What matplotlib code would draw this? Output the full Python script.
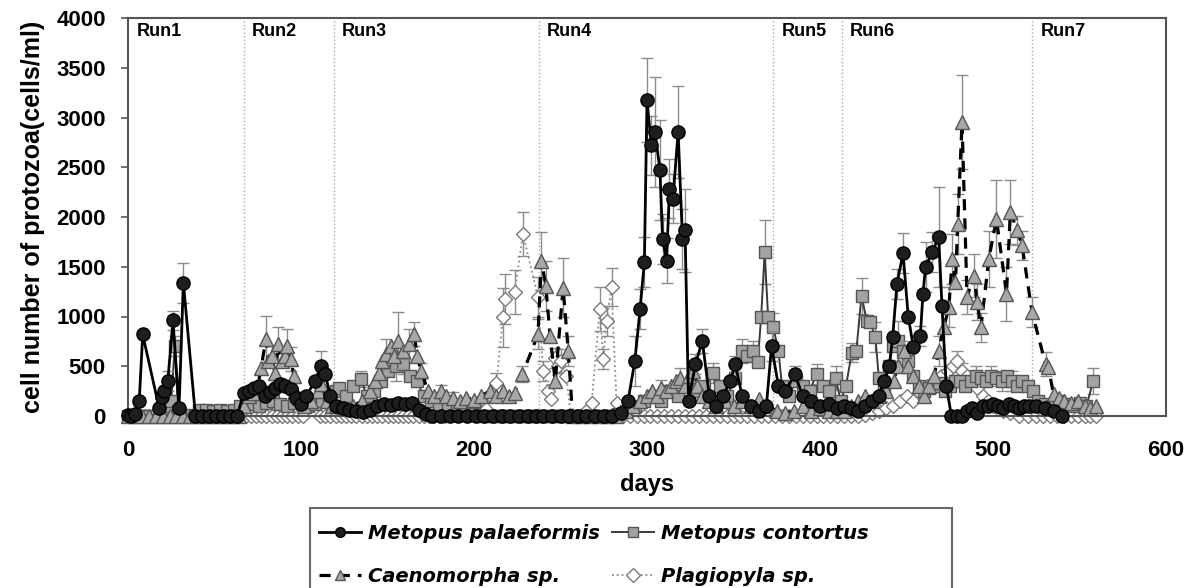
import numpy as np
import matplotlib.pyplot as plt
from matplotlib.patches import Rectangle

# values: days and cells/ml
# Metopus palaeformis
mp_days = [0, 2, 4, 6.5, 8.5, 18, 19.5, 21, 23, 26, 29.5, 32, 39, 43, 47, 51, 55, 59, 63,
           67, 70, 73, 76, 79, 82, 85, 88, 91, 94, 97, 100, 103, 108, 111.5, 114, 117,
           120, 124, 128, 132, 136, 140, 144, 148, 152, 156, 160, 164, 168, 172, 176, 181,
           186, 191, 196, 201, 206, 211, 216, 221, 226, 231, 236,
           240, 245, 250, 255, 260, 265, 270, 275, 280, 285, 289, 293, 296, 298.5, 300,
           302.5, 304.6, 307.5, 309, 311.3, 313, 315, 318, 320.5, 322, 324, 328, 332, 336,
           340, 344, 348, 351, 355, 360, 365, 369, 372,
           376, 380, 385.5, 390, 395, 400, 405, 410,
           414, 418, 422, 426, 430, 434, 437, 440, 442, 444.5, 448, 451, 454, 458, 459.5,
           461, 464.8, 468.6, 470.5, 473, 476, 479, 482, 485, 488, 491, 494, 497, 500, 503,
           506, 509, 512, 515, 518, 521,
           525, 530, 535, 540]
mp_vals = [10, 0, 20, 150, 820, 80, 190, 250, 350, 960, 80, 1340, 0, 0, 0, 0, 0, 0, 0,
           235, 250, 280, 300, 200, 240, 280, 320, 300, 270, 180, 120, 200, 350, 500, 420, 200,
           100, 80, 60, 50, 40, 60, 100, 120, 110, 130, 120, 130, 60, 20, 0, 0,
           0, 0, 0, 0, 0, 0, 0, 0, 0, 0, 0,
           0, 0, 0, 0, 0, 0, 0, 0, 0, 30, 150, 554, 1075, 1550, 3175,
           2720, 2856, 2470, 1780, 1562, 2285, 2185, 2856, 1780, 1865, 150, 520, 756, 200,
           100, 200, 350, 520, 200, 100, 50, 100, 700,
           300, 250, 423, 200, 150, 100, 120, 80,
           100, 80, 50, 100, 150, 200, 350, 500, 790, 1330, 1636, 1000, 690, 806, 1227,
           1495, 1646, 1797, 1109, 300, 0, 0, 0, 50, 80, 30, 100, 100, 120, 100,
           80, 120, 100, 80, 100, 100,
           100, 80, 50, 0]
mp_err = {6.5: 40, 23: 100, 26: 100, 32: 200, 88: 60, 94: 50, 111.5: 150,
          293: 250, 296: 200, 298.5: 250, 300: 425, 302.5: 300, 304.6: 550, 307.5: 500,
          309: 250, 311.3: 230, 313: 300, 315: 250, 318: 460, 320.5: 300, 322: 420,
          328: 100, 332: 120, 351: 80, 372: 150, 385.5: 80,
          444.5: 150, 448: 200, 458: 100, 461: 250, 464.8: 200, 468.6: 500}

# Metopus contortus
mc_days = [0, 4, 8, 12, 16, 20, 23, 25, 27, 29, 33, 37, 41, 45, 49, 53, 57, 61, 65,
           68, 72, 76, 80, 84, 88, 92, 96, 100, 104, 108, 112, 116,
           120, 122, 126, 130, 134.7, 138, 142, 146, 150, 155, 159, 163, 167, 171, 175, 180,
           185, 190, 195, 200, 205, 209, 212, 215, 218, 221, 224, 227, 230, 233, 236,
           239, 242, 245, 248, 251, 254, 258, 263, 268, 273, 278, 283, 288, 293, 298, 303,
           308, 313, 318, 323, 328, 333, 338, 342, 346, 351, 354.7, 358, 361, 364, 366, 368,
           370, 373,
           376, 378, 382, 386, 390, 394, 398, 402, 405, 409, 412,
           415, 418.4, 421, 424, 427, 429, 432, 434, 437, 440, 442, 445, 448, 451, 454, 457,
           460, 463, 466, 469, 472, 475, 478, 481, 484, 487, 490, 493, 496, 499, 502, 505,
           508, 511, 514, 517, 520, 523,
           526, 530, 534, 538, 542, 546, 550, 554, 558]
mc_vals = [0, 0, 0, 0, 0, 30, 100, 150, 700, 50, 0, 10, 60, 60, 50, 60, 50, 60, 100,
           150, 120, 100, 130, 150, 120, 100, 130, 150, 100, 120, 150, 200,
           250, 280, 200, 300, 370, 200, 250, 350, 450, 500, 520, 400, 350, 200, 150, 100,
           80, 60, 40, 20, 0, 0, 0, 0, 0, 0, 0, 0, 0, 0, 0,
           0, 0, 0, 0, 0, 0, 0, 0, 0, 0, 0, 20, 50, 100, 150, 200,
           150, 250, 200, 300, 250, 300, 430, 300, 200, 380, 655, 600, 655, 540, 1000, 1646,
           1000, 890,
           655, 300, 200, 350, 300, 250, 420, 300, 250, 386, 150,
           300, 638, 655, 1210, 957, 940, 790, 386, 300, 500, 700, 756, 650, 550, 400, 300,
           250, 280, 300, 330, 250, 300, 350, 350, 300, 350, 400, 380, 350, 400, 380, 350,
           400, 350, 300, 350, 300, 250,
           150, 120, 100, 150, 120, 100, 130, 100, 353]
mc_err = {27: 100, 134.7: 80, 155: 150, 159: 100, 338: 100, 354.7: 120, 361: 100,
          368: 320, 373: 150, 398: 100, 409: 120, 418.4: 100, 424: 180, 432: 150,
          445: 200, 490: 100, 499: 100, 505: 100, 511: 100, 558: 130}

# Caenomorpha sp.
ca_days = [0, 4, 8, 12, 16, 20, 24, 28, 32, 36, 40, 44, 48, 52, 56, 60, 64,
           67, 70, 72, 75, 77, 79.7, 81, 83, 85, 86.8, 89, 90.5, 92, 94, 96, 99, 102, 106,
           110, 111.6, 115, 118,
           120, 125, 130, 135, 140, 143, 145.3, 147, 149, 152, 154, 156, 159, 162.7, 165.6,
           167, 169.5, 173.3, 177, 181, 184, 188, 192, 195.5, 200, 204, 209, 213, 216.7,
           220, 223.5, 228, 237,
           239, 241.5, 244, 247, 251.5, 254.5, 257, 262, 267, 272, 277, 282, 288, 292, 296,
           300, 303, 306, 308, 311, 314, 317, 319, 322, 324, 326.7, 329, 332, 336, 340, 345,
           350, 355, 360, 365, 370,
           375, 380, 385, 390, 395, 400, 405, 410,
           414, 418, 422, 426, 430, 434, 438, 442.6, 445, 448.4, 451, 454, 457, 460, 463,
           466, 468.6, 471.5, 474.5, 476.4, 478.3, 479.6, 482.1, 485, 488.8, 491, 493,
           497.6, 502, 507.8, 510, 514, 516.8, 522.6, 530.4, 532, 535,
           538, 541, 545, 549, 553, 556, 559.5]
ca_vals = [0, 0, 0, 0, 0, 0, 0, 0, 0, 0, 0, 0, 0, 0, 0, 0, 0,
           100, 200, 235, 300, 487, 773, 550, 600, 430, 722, 550, 600, 706, 575, 400, 185,
           100, 150, 250, 320, 150, 100,
           100, 80, 100, 150, 250, 350, 437, 550, 622, 700, 600, 756, 650, 722, 823,
           600, 454, 252, 200, 252, 200, 185, 150, 185, 165, 200, 252, 200, 252,
           200, 235, 420, 823,
           1560, 1310, 800, 350, 1290, 650, 0, 0, 0, 0, 0, 0, 50, 100, 150,
           200, 250, 200, 285, 250, 300, 350, 386, 300, 400, 454, 300, 200, 150, 100, 150,
           100, 150, 100, 170, 100,
           50, 30, 50, 100, 50, 80, 50, 50,
           50, 100, 150, 200, 150, 200, 250, 353, 500, 655, 500, 400, 300, 200, 300,
           400, 655, 890, 1092, 1580, 1344, 1932, 2956, 1193, 1411, 1142, 890,
           1580, 1982, 1227, 2050, 1865, 1714, 1041, 521, 490, 218,
           180, 150, 130, 150, 100, 80, 100]
ca_err = {79.7: 230, 83: 100, 86.8: 170, 92: 170, 94: 120, 111.6: 80,
          149: 150, 156: 285, 162.7: 150, 165.6: 120, 169.5: 80, 181: 60, 188: 60,
          228: 80, 237: 150, 239: 290, 241.5: 250, 251.5: 300, 254.5: 150, 308: 80,
          319: 100, 326.7: 100, 448.4: 100, 468.6: 150, 474.5: 200, 476.4: 250,
          479.6: 300, 482.1: 470, 485: 170, 488.8: 220, 491: 180, 493: 150, 497.6: 280,
          502: 390, 507.8: 270, 510: 320, 514: 150, 516.8: 150, 522.6: 150, 530.4: 120}

# Plagiopyla sp.
pl_days = [0, 2, 4, 7, 10, 19, 21, 23, 25, 27, 29, 31, 33, 36, 39, 42, 45, 48, 51, 54,
           57, 60, 63, 66,
           68, 71, 74, 77, 80, 83, 86, 89, 92, 95, 98, 101, 111, 114, 117,
           120, 123, 126, 129, 132, 135, 138, 141, 144, 147, 150, 153, 156, 159, 162, 165,
           168, 171, 174, 177, 180, 183, 186, 189, 192, 196, 200, 204, 207, 210, 213, 216.7,
           218, 223.5, 228.3, 237,
           240, 243, 244.5, 246.7, 248.5, 250.5, 253.4, 256, 259, 262, 265, 268, 272.7,
           274.7, 276.6, 279.5, 282.4, 286, 290, 294, 298, 302, 306, 310, 314, 318, 322,
           326, 330, 334, 338, 342, 346, 350, 354, 358, 362, 366, 370,
           374, 378, 382, 386, 390, 394, 398, 402, 406, 410,
           414, 418, 422, 426, 430, 434, 438, 442, 446, 450, 454, 458, 462, 466, 470, 474,
           477, 479, 482, 485, 488, 491, 494, 497, 500, 503, 506, 510, 515, 520,
           525, 529, 533, 537, 541, 545, 549, 553, 556, 559.5]
pl_vals = [0, 0, 0, 0, 0, 0, 0, 0, 0, 0, 0, 0, 0, 0, 0, 0, 0, 0, 0, 0,
           0, 0, 0, 0,
           0, 0, 0, 0, 0, 0, 0, 0, 0, 0, 0, 0, 0, 0, 0,
           0, 0, 0, 0, 0, 0, 0, 0, 0, 0, 0, 0, 0, 0, 0, 0,
           0, 0, 0, 0, 0, 0, 30, 100, 50, 80, 30, 50, 70, 200, 336, 991,
           1176, 1243, 1831, 1193,
           454, 252, 170, 585, 504, 554, 403, 0, 0, 0, 50, 134, 1075,
           571, 957, 1293, 134, 0, 0, 0, 0, 0, 0, 0, 0, 0, 0,
           0, 0, 0, 0, 0, 0, 0, 0, 0, 0, 0, 0,
           0, 0, 0, 0, 0, 0, 0, 0, 0, 0,
           0, 0, 0, 10, 30, 50, 80, 100, 150, 200, 150, 230, 300, 350, 400, 450,
           500, 554, 450, 400, 350, 280, 200, 150, 100, 70, 50, 30, 0, 0,
           0, 0, 0, 0, 0, 0, 0, 0, 0, 0]
pl_err = {213: 100, 216.7: 300, 218: 250, 223.5: 220, 228.3: 220, 237: 200, 240: 100,
          246.7: 100, 250.5: 120, 272.7: 220, 274.7: 100, 276.6: 150, 279.5: 190,
          479: 100, 482: 80}

run_names = ['Run1', 'Run2', 'Run3', 'Run4', 'Run5', 'Run6', 'Run7']
run_starts = [0, 67, 119, 237.5, 373, 412.5, 522.5]

labels = ['Metopus palaeformis', 'Metopus contortus', 'Caenomorpha sp.', 'Plagiopyla sp.']

W, H = 1192, 588
fig = plt.figure(figsize=(W / 100, H / 100), dpi=100)
ax = fig.add_axes([128 / W, 1 - 416 / H, 1038 / W, 398 / H])


def draw(days, vals, errs, z, **style):
    ex = [d for d in errs]
    ey = [vals[days.index(d)] for d in errs]
    ee = [errs[d] for d in errs]
    ax.errorbar(ex, ey, yerr=ee, fmt='none', ecolor='#8c8c8c', elinewidth=1,
                capsize=4, capthick=1, zorder=z - 0.5, clip_on=False)
    line, = ax.plot(days, vals, zorder=z, clip_on=False, **style)
    return line


h_pl = draw(pl_days, pl_vals, pl_err, 2, color='#8a8a8a', linestyle=':', linewidth=1.3,
            marker='D', markersize=7, markerfacecolor='white', markeredgecolor='#7a7a7a',
            markeredgewidth=1)
h_mc = draw(mc_days, mc_vals, mc_err, 3, color='#3a3a3a', linestyle='-', linewidth=1.4,
            marker='s', markersize=9, markerfacecolor='#a2a2a2', markeredgecolor='#555555',
            markeredgewidth=1)
h_ca = draw(ca_days, ca_vals, ca_err, 4, color='black', linestyle=(0, (3.5, 2.5)),
            linewidth=2.3, marker='^', markersize=10, markerfacecolor='#a8a8a8',
            markeredgecolor='#555555', markeredgewidth=1)
h_mp = draw(mp_days, mp_vals, mp_err, 5, color='black', linestyle='-', linewidth=2,
            marker='o', markersize=9.5, markerfacecolor='#1e1e1e', markeredgecolor='black',
            markeredgewidth=1)

# run boundaries and labels
for start, name in zip(run_starts, run_names):
    if start > 0:
        ax.axvline(start, color='#aaaaaa', linestyle=':', linewidth=1, zorder=1)
    ax.annotate(name, xy=(start, 0.966), xycoords=('data', 'axes fraction'),
                xytext=(6, 0), textcoords='offset points', va='center', ha='left',
                fontsize=13, fontweight='bold', family='Liberation Sans')

ax.set_xlim(0, 600)
ax.set_ylim(0, 4000)
ax.set_xticks(range(0, 601, 100))
ax.set_yticks(range(0, 4001, 500))
ax.tick_params(axis='y', direction='out', length=5, width=1.2, pad=11, color='#555555')
ax.tick_params(axis='x', length=0, pad=17)
for lab in ax.get_xticklabels() + ax.get_yticklabels():
    lab.set_fontweight('bold')
    lab.set_fontsize(16)
    lab.set_family('Liberation Sans')
for sp in ax.spines.values():
    sp.set_color('#555555')
    sp.set_linewidth(1.5)

ax.set_xlabel('days', fontsize=17, fontweight='bold', family='Liberation Sans', labelpad=9)
ax.set_ylabel('cell number of protozoa(cells/ml)', fontsize=18, fontweight='bold',
              family='Liberation Sans', labelpad=8)

# legend fills column-wise, so this order gives the two rows of the reference
leg = fig.legend([h_mp, h_ca, h_mc, h_pl], [labels[0], labels[2], labels[1], labels[3]],
                 loc='upper left', bbox_to_anchor=(303 / W, 1 - 508 / H), ncol=2,
                 prop={'family': 'DejaVu Sans', 'weight': 'bold', 'style': 'italic', 'size': 14},
                 handlelength=2.2, handletextpad=0.35, columnspacing=0.6, labelspacing=1.25,
                 borderpad=0.8, borderaxespad=0, frameon=False)
for h in leg.legend_handles:
    h.set_markersize(7)

# legend box is wider than its entries and runs past the bottom edge
fig.patches.append(Rectangle((310 / W, -0.05), (952 - 310) / W, 0.05 + (H - 508) / H,
                             transform=fig.transFigure, fill=False, edgecolor='#666666',
                             linewidth=1.5, clip_on=False))

fig.savefig('out.png', dpi=100)
